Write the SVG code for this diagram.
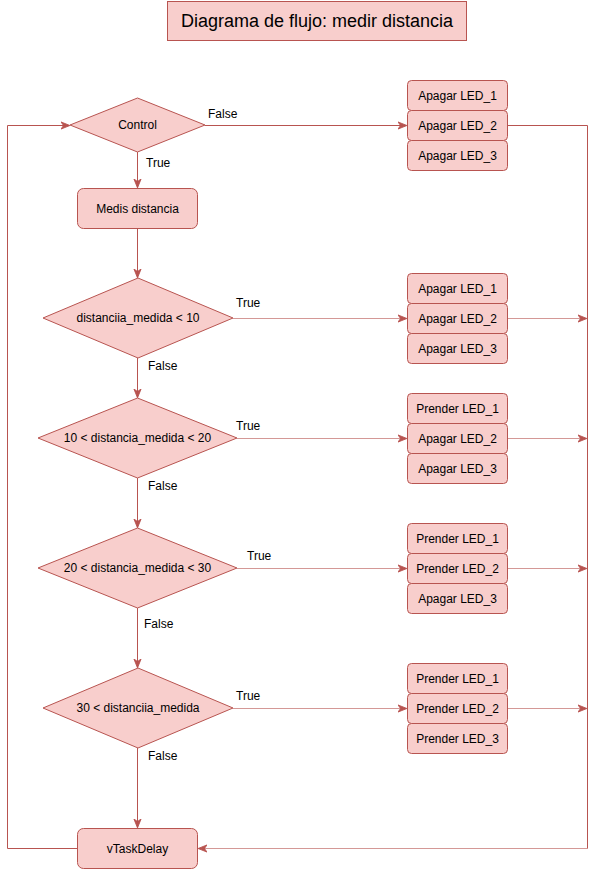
<svg xmlns="http://www.w3.org/2000/svg" width="596" height="869" viewBox="0 0 596 869">
  <style>
    .shape { fill: #f8cecc; stroke: #b85450; stroke-width: 1; }
    .txt { font-family: "Liberation Sans", Arial, sans-serif; font-size: 12px; fill: #000; text-anchor: middle; dominant-baseline: central; }
    .lbl { font-family: "Liberation Sans", Arial, sans-serif; font-size: 12px; fill: #000; }
    .title { font-family: "Liberation Sans", Arial, sans-serif; font-size: 18px; fill: #000; text-anchor: middle; dominant-baseline: central; }
    .edge { fill: none; stroke: #b85450; stroke-width: 1; }
    .soft { stroke-opacity: 0.6; }
  </style>
  <defs>
    <marker id="arrow" viewBox="0 0 10 10" refX="9" refY="5" markerWidth="9" markerHeight="9" markerUnits="userSpaceOnUse" orient="auto">
      <path d="M0,1 L10,5 L0,9 L3,5 Z" fill="#b85450" stroke="#b85450" stroke-width="1"/>
    </marker>
  </defs>

  <rect width="596" height="869" fill="#ffffff"/>

  <!-- title -->
  <g id="title">
    <rect class="shape" x="167.5" y="1.5" width="299" height="39"/>
    <text class="title" x="317" y="21">Diagrama de flujo: medir distancia</text>
  </g>

  <!-- connectors -->
  <g id="connectors">
    <!-- loop back from vTaskDelay to Control -->
    <path class="edge" d="M77,848.5 H7.5 V125.5 H69" marker-end="url(#arrow)"/>
    <!-- Control -->
    <path class="edge" d="M205,125.5 H406" marker-end="url(#arrow)"/>
    <path class="edge" d="M137.5,152 V187" marker-end="url(#arrow)"/>
    <path class="edge" d="M137.5,228 V277" marker-end="url(#arrow)"/>
    <!-- comparisons, True branches -->
    <path class="edge soft" d="M233,318.5 H406" marker-end="url(#arrow)"/>
    <path class="edge soft" d="M237,438.5 H406" marker-end="url(#arrow)"/>
    <path class="edge soft" d="M237,568.5 H406" marker-end="url(#arrow)"/>
    <path class="edge soft" d="M233,708.5 H406" marker-end="url(#arrow)"/>
    <!-- comparisons, False branches -->
    <path class="edge" d="M137.5,358 V397" marker-end="url(#arrow)"/>
    <path class="edge" d="M137.5,478 V527" marker-end="url(#arrow)"/>
    <path class="edge" d="M137.5,608 V667" marker-end="url(#arrow)"/>
    <path class="edge" d="M137.5,748 V827" marker-end="url(#arrow)"/>
    <!-- LED groups to the return rail -->
    <path class="edge" d="M507,125.5 H587.5 V848.5"/>
    <path class="edge soft" d="M587.5,848.5 H200"/>
    <path class="edge" d="M205,848.5 H199" marker-end="url(#arrow)"/>
    <path class="edge soft" d="M507,318.5 H586" marker-end="url(#arrow)"/>
    <path class="edge soft" d="M507,438.5 H586" marker-end="url(#arrow)"/>
    <path class="edge soft" d="M507,568.5 H586" marker-end="url(#arrow)"/>
    <path class="edge soft" d="M507,708.5 H586" marker-end="url(#arrow)"/>
    <!-- branch labels -->
    <text class="lbl" x="208" y="118">False</text>
    <text class="lbl" x="146" y="167">True</text>
    <text class="lbl" x="236" y="307">True</text>
    <text class="lbl" x="148" y="370">False</text>
    <text class="lbl" x="236" y="430">True</text>
    <text class="lbl" x="148" y="490">False</text>
    <text class="lbl" x="247" y="560">True</text>
    <text class="lbl" x="144" y="628">False</text>
    <text class="lbl" x="236" y="700">True</text>
    <text class="lbl" x="148" y="760">False</text>
  </g>

  <!-- decisions and processes -->
  <g id="control">
    <polygon class="shape" points="137.5,98 205,125 137.5,152 70,125"/>
    <text class="txt" x="137.5" y="125">Control</text>
  </g>
  <g id="medir">
    <rect class="shape" x="77.5" y="188.5" width="120" height="40" rx="6"/>
    <text class="txt" x="137.5" y="208.5">Medis distancia</text>
  </g>
  <g id="cmp10">
    <polygon class="shape" points="138,278 233,318 138,358 43,318"/>
    <text class="txt" x="138" y="318">distanciia_medida &lt; 10</text>
  </g>
  <g id="cmp10_20">
    <polygon class="shape" points="137.5,398 237,438 137.5,478 38,438"/>
    <text class="txt" x="137.5" y="438">10 &lt; distancia_medida &lt; 20</text>
  </g>
  <g id="cmp20_30">
    <polygon class="shape" points="137.5,528 237,568 137.5,608 38,568"/>
    <text class="txt" x="137.5" y="568">20 &lt; distancia_medida &lt; 30</text>
  </g>
  <g id="cmp30">
    <polygon class="shape" points="138,668 233,708 138,748 43,708"/>
    <text class="txt" x="138" y="708">30 &lt; distanciia_medida</text>
  </g>
  <g id="delay">
    <rect class="shape" x="77.5" y="828.5" width="120" height="40" rx="6"/>
    <text class="txt" x="137.5" y="848.5">vTaskDelay</text>
  </g>

  <!-- LED actions -->
  <g id="leds_off">
    <rect class="shape" x="407.5" y="80.5" width="100" height="30" rx="4"/>
    <text class="txt" x="457.5" y="95.5">Apagar LED_1</text>
    <rect class="shape" x="407.5" y="110.5" width="100" height="30" rx="4"/>
    <text class="txt" x="457.5" y="125.5">Apagar LED_2</text>
    <rect class="shape" x="407.5" y="140.5" width="100" height="30" rx="4"/>
    <text class="txt" x="457.5" y="155.5">Apagar LED_3</text>
  </g>
  <g id="leds_lt10">
    <rect class="shape" x="407.5" y="273.5" width="100" height="30" rx="4"/>
    <text class="txt" x="457.5" y="288.5">Apagar LED_1</text>
    <rect class="shape" x="407.5" y="303.5" width="100" height="30" rx="4"/>
    <text class="txt" x="457.5" y="318.5">Apagar LED_2</text>
    <rect class="shape" x="407.5" y="333.5" width="100" height="30" rx="4"/>
    <text class="txt" x="457.5" y="348.5">Apagar LED_3</text>
  </g>
  <g id="leds_10_20">
    <rect class="shape" x="407.5" y="393.5" width="100" height="30" rx="4"/>
    <text class="txt" x="457.5" y="408.5">Prender LED_1</text>
    <rect class="shape" x="407.5" y="423.5" width="100" height="30" rx="4"/>
    <text class="txt" x="457.5" y="438.5">Apagar LED_2</text>
    <rect class="shape" x="407.5" y="453.5" width="100" height="30" rx="4"/>
    <text class="txt" x="457.5" y="468.5">Apagar LED_3</text>
  </g>
  <g id="leds_20_30">
    <rect class="shape" x="407.5" y="523.5" width="100" height="30" rx="4"/>
    <text class="txt" x="457.5" y="538.5">Prender LED_1</text>
    <rect class="shape" x="407.5" y="553.5" width="100" height="30" rx="4"/>
    <text class="txt" x="457.5" y="568.5">Prender LED_2</text>
    <rect class="shape" x="407.5" y="583.5" width="100" height="30" rx="4"/>
    <text class="txt" x="457.5" y="598.5">Apagar LED_3</text>
  </g>
  <g id="leds_gt30">
    <rect class="shape" x="407.5" y="663.5" width="100" height="30" rx="4"/>
    <text class="txt" x="457.5" y="678.5">Prender LED_1</text>
    <rect class="shape" x="407.5" y="693.5" width="100" height="30" rx="4"/>
    <text class="txt" x="457.5" y="708.5">Prender LED_2</text>
    <rect class="shape" x="407.5" y="723.5" width="100" height="30" rx="4"/>
    <text class="txt" x="457.5" y="738.5">Prender LED_3</text>
  </g>
</svg>
